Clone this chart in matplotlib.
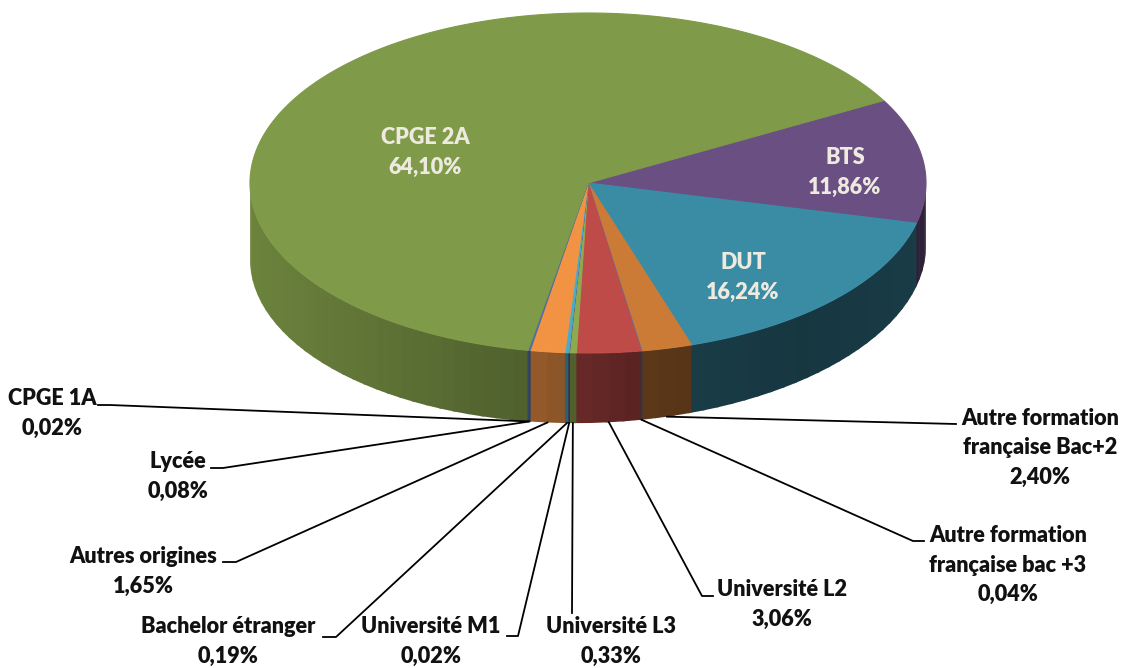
import numpy as np
import matplotlib
matplotlib.use('Agg')
import matplotlib.pyplot as plt

plt.rcParams['font.family'] = ['Lato', 'DejaVu Sans']

# ordre horaire a partir de la frontiere CPGE 2A / BTS
noms = ['BTS', 'DUT', 'Autre formation\nfrançaise Bac+2', 'Autre formation\nfrançaise bac +3',
        'Université L2', 'Université L3', 'Université M1', 'Bachelor étranger',
        'Autres origines', 'Lycée', 'CPGE 1A', 'CPGE 2A']
valeurs = [11.86, 16.24, 2.40, 0.04, 3.06, 0.33, 0.02, 0.19, 1.65, 0.08, 0.02, 64.10]
couleurs = ['#6A4F82', '#3A8CA5', '#CB7B36', '#5B78A8', '#BE4B48', '#8FA94F',
            '#6A4F82', '#4BACC6', '#F29344', '#4F6D9E', '#4F6D9E', '#7F9A48']

# geometrie du camembert (pixels de l'image)
cx, cy = 588, 183
rx, ry = 338, 170
depart = 61.0

# ombrage de la face laterale selon x
ombre_x = [250, 528, 600, 660, 800, 926]
ombre_f = [0.85, 0.62, 0.52, 0.44, 0.39, 0.43]

# position du texte (centre) et coude du trait de rappel
texte_pos = {'BTS': (845, 172), 'DUT': (743, 277), 'CPGE 2A': (425, 152),
             'Autre formation\nfrançaise Bac+2': (1040, 448), 'Autre formation\nfrançaise bac +3': (1008, 565),
             'Université L2': (782, 604), 'Université L3': (611, 641), 'Université M1': (431, 641),
             'Bachelor étranger': (228, 641), 'Autres origines': (143, 571), 'Lycée': (178, 476),
             'CPGE 1A': (52, 413)}
rappel = {'Autre formation\nfrançaise Bac+2': [(956, 424)],
          'Autre formation\nfrançaise bac +3': [(924, 541), (913, 541)],
          'Université L2': [(713, 596), (702, 596)],
          'Université L3': [(572, 613)],
          'Université M1': [(507, 636), (518, 636)],
          'Bachelor étranger': [(323, 637), (336, 637)],
          'Autres origines': [(223, 562), (236, 562)],
          'Lycée': [(211, 468), (223, 468)],
          'CPGE 1A': [(98, 405), (110, 405)]}
interieur = ['BTS', 'DUT', 'CPGE 2A']


def bord(a):
    a = np.radians(a)
    return cx + rx * np.sin(a), cy - ry * np.cos(a)


def profondeur(x):
    return np.interp(x, [250, 588, 926], [76, 70, 63])


def assombrir(c, f):
    r, g, b = matplotlib.colors.to_rgb(c)
    return (r * f, g * f, b * f)


fig = plt.figure(figsize=(11.22, 6.68), dpi=100)
ax = fig.add_axes([0, 0, 1, 1])
ax.set_xlim(0, 1122)
ax.set_ylim(668, 0)
ax.axis('off')

total = sum(valeurs)
limites = depart + np.concatenate([[0], np.cumsum(valeurs)]) / total * 360

# face laterale, par bandes verticales qui se recouvrent un peu (pas de joints visibles)
for i in range(len(valeurs)):
    a0, a1 = max(limites[i], 90), min(limites[i + 1], 270)
    if a1 <= a0:
        continue
    fin = valeurs[i] < 0.1
    recouvre = 0 if fin else 0.6
    n = max(int((a1 - a0) / 2.5), 1)
    ang = np.linspace(a0, a1, n + 1)
    for j in range(n):
        xs, ys = bord(np.linspace(ang[j], min(ang[j + 1] + recouvre, 270), 8))
        c = assombrir(couleurs[i], np.interp(xs.mean(), ombre_x, ombre_f))
        ax.fill(np.r_[xs, xs[::-1]], np.r_[ys, (ys + profondeur(xs))[::-1]],
                color=c, lw=0.7 if fin else 0, zorder=1.5 if fin else 1)

# face superieure
for i in range(len(valeurs)):
    ang = np.linspace(limites[i], limites[i + 1], max(int(valeurs[i] * 8), 2))
    xs, ys = bord(ang)
    ax.fill(np.r_[cx, xs], np.r_[cy, ys], color=couleurs[i], lw=0.8, zorder=2)

# traits de rappel
for i, nom in enumerate(noms):
    if nom not in rappel:
        continue
    xa, ya = bord((limites[i] + limites[i + 1]) / 2)
    ya = ya + profondeur(xa)
    pts = rappel[nom] + [(xa, ya)]
    ax.plot([p[0] for p in pts], [p[1] for p in pts], color='black', lw=1.3, zorder=3,
            solid_joinstyle='round')

# textes
for nom, v in zip(noms, valeurs):
    x, y = texte_pos[nom]
    txt = nom + '\n' + f'{v:.2f}'.replace('.', ',') + '%'
    c = '#EEEAE0' if nom in interieur else '#111111'
    ax.text(x, y, txt, ha='center', va='center', fontsize=15.6, fontweight='heavy', color=c,
            linespacing=1.52, zorder=4)

fig.savefig('out.png', dpi=100)
